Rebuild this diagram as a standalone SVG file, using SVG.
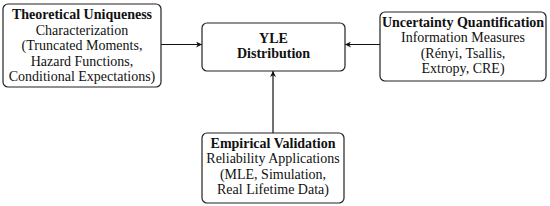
<svg xmlns="http://www.w3.org/2000/svg" width="550" height="206" viewBox="0 0 550 206">
<style>
.box{fill:#fff;stroke:#222;stroke-width:1.2}
text{font-family:"Liberation Serif",serif;font-size:14px;fill:#111;text-anchor:middle}
.b{font-weight:bold}
.c{stroke:#111;stroke-width:1.2;fill:none}
</style>
<defs>
<marker id="ah" viewBox="0 0 10 10" refX="10" refY="5" markerWidth="6" markerHeight="6" orient="auto" markerUnits="userSpaceOnUse">
<path d="M0,0 L10,5 L0,10 L3,5 Z" fill="#111"/>
</marker>
</defs>
<rect width="550" height="206" fill="#fff"/>
<g id="connectors">
<line class="c" x1="161" y1="44.5" x2="202" y2="44.5" marker-end="url(#ah)"/>
<line class="c" x1="380" y1="44.5" x2="345" y2="44.5" marker-end="url(#ah)"/>
<line class="c" x1="273" y1="133" x2="273" y2="71" marker-end="url(#ah)"/>
</g>
<g id="theory">
<rect class="box" x="3" y="4" width="158" height="83" rx="5"/>
<text x="82" y="19" class="b">Theoretical Uniqueness</text>
<text x="82" y="34.5">Characterization</text>
<text x="82" y="50">(Truncated Moments,</text>
<text x="82" y="65.5">Hazard Functions,</text>
<text x="82" y="81">Conditional Expectations)</text>
</g>
<g id="yle">
<rect class="box" x="202" y="23" width="143" height="48" rx="5"/>
<text x="273.5" y="43" class="b">YLE</text>
<text x="273.5" y="58" class="b">Distribution</text>
</g>
<g id="uncertainty">
<rect class="box" x="380" y="12" width="166" height="69" rx="5"/>
<text x="463" y="26.5" class="b">Uncertainty Quantification</text>
<text x="463" y="42">Information Measures</text>
<text x="463" y="57.5">(Rényi, Tsallis,</text>
<text x="463" y="73">Extropy, CRE)</text>
</g>
<g id="empirical">
<rect class="box" x="202" y="133" width="142" height="70" rx="5"/>
<text x="273" y="147.5" class="b">Empirical Validation</text>
<text x="273" y="163">Reliability Applications</text>
<text x="273" y="178.5">(MLE, Simulation,</text>
<text x="273" y="194">Real Lifetime Data)</text>
</g>
</svg>
